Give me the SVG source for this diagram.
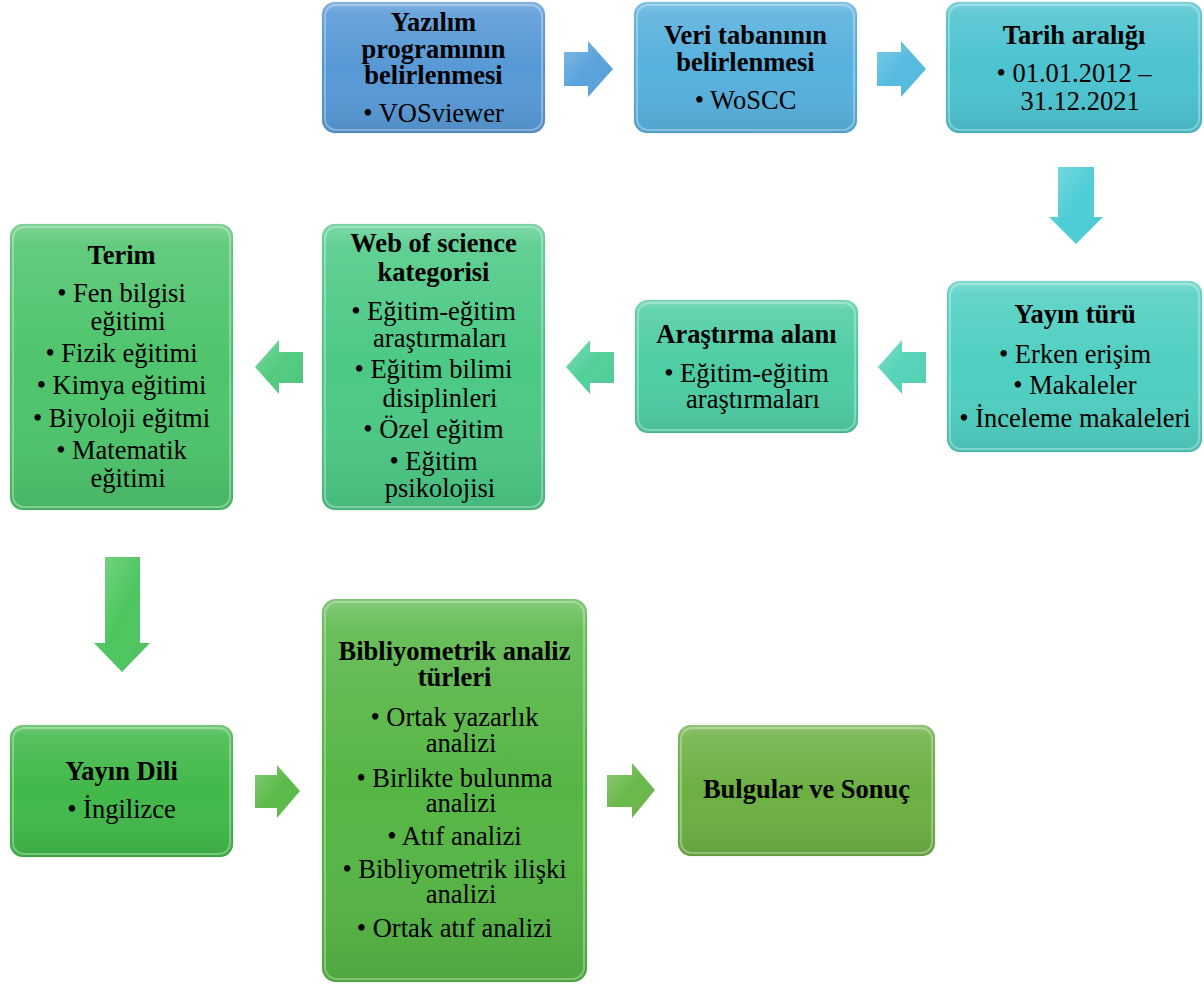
<svg xmlns="http://www.w3.org/2000/svg" width="1204" height="985" viewBox="0 0 1204 985">
<defs>
<linearGradient id="gloss" x1="0" y1="0" x2="0" y2="1">
<stop offset="0" stop-color="#fff" stop-opacity="0.28"/>
<stop offset="0.08" stop-color="#fff" stop-opacity="0.12"/>
<stop offset="0.5" stop-color="#fff" stop-opacity="0"/>
<stop offset="1" stop-color="#000" stop-opacity="0.08"/>
</linearGradient>
<linearGradient id="agloss" x1="0" y1="0" x2="1" y2="1">
<stop offset="0" stop-color="#fff" stop-opacity="0.25"/>
<stop offset="0.5" stop-color="#fff" stop-opacity="0"/>
<stop offset="1" stop-color="#000" stop-opacity="0.06"/>
</linearGradient>
<style>
.t{font-family:"Liberation Serif","Times New Roman",serif;font-size:26.5px;fill:#000;text-anchor:middle}
.b{font-weight:bold}
.gl{fill:url(#gloss)}
.in{fill:none;stroke:#fff;stroke-opacity:0.3;stroke-width:2}
.ed{stroke:#000;stroke-opacity:0.08;stroke-width:1}
.ag{fill:url(#agloss)}
</style>
</defs>
<g id="connectors">
<path fill="#5aa3dc" d="M564,52H588V41L613,69L588,97V86H564Z"/>
<path class="ag" d="M564,52H588V41L613,69L588,97V86H564Z"/>
<path fill="#55bbe0" d="M877,52H901V41L926,69L901,97V86H877Z"/>
<path class="ag" d="M877,52H901V41L926,69L901,97V86H877Z"/>
<path fill="#4ecdd6" d="M1058,167H1094V217H1103L1076,244L1049,217H1058Z"/>
<path class="ag" d="M1058,167H1094V217H1103L1076,244L1049,217H1058Z"/>
<path fill="#55d3b8" d="M926,352H902V340L878,367L902,394V383H926Z"/>
<path class="ag" d="M926,352H902V340L878,367L902,394V383H926Z"/>
<path fill="#52d09a" d="M614,352H590V340L566,367L590,394V383H614Z"/>
<path class="ag" d="M614,352H590V340L566,367L590,394V383H614Z"/>
<path fill="#52cb80" d="M303,352H279V340L255,367L279,394V383H303Z"/>
<path class="ag" d="M303,352H279V340L255,367L279,394V383H303Z"/>
<path fill="#4ec660" d="M105,557H140V643H150L122,672L94,643H105Z"/>
<path class="ag" d="M105,557H140V643H150L122,672L94,643H105Z"/>
<path fill="#5cbb4a" d="M255,775H277V765L300,791L277,818V808H255Z"/>
<path class="ag" d="M255,775H277V765L300,791L277,818V808H255Z"/>
<path fill="#6ab84a" d="M607,775H632V763L655,790L632,818V807H607Z"/>
<path class="ag" d="M607,775H632V763L655,790L632,818V807H607Z"/>
</g>
<g id="n1">
<rect class="ed" x="322" y="2" width="223" height="131" rx="13" fill="#5799d6"/>
<rect class="gl" x="322" y="2" width="223" height="131" rx="13"/>
<rect class="in" x="325" y="5" width="217" height="125" rx="11"/>
<text class="t b" x="433.5" y="31">Yazılım</text>
<text class="t b" x="433.5" y="58">programının</text>
<text class="t b" x="433.5" y="84">belirlenmesi</text>
<text class="t" x="433.5" y="122">• VOSviewer</text>
</g>
<g id="n2">
<rect class="ed" x="634" y="2" width="223" height="131" rx="13" fill="#57b0dd"/>
<rect class="gl" x="634" y="2" width="223" height="131" rx="13"/>
<rect class="in" x="637" y="5" width="217" height="125" rx="11"/>
<text class="t b" x="745.5" y="44">Veri tabanının</text>
<text class="t b" x="745.5" y="71">belirlenmesi</text>
<text class="t" x="745.5" y="109">• WoSCC</text>
</g>
<g id="n3">
<rect class="ed" x="946" y="2" width="256" height="131" rx="13" fill="#4cc3d0"/>
<rect class="gl" x="946" y="2" width="256" height="131" rx="13"/>
<rect class="in" x="949" y="5" width="250" height="125" rx="11"/>
<text class="t b" x="1074" y="44">Tarih aralığı</text>
<text class="t" x="1074" y="82">• 01.01.2012 –</text>
<text class="t" x="1080" y="110">31.12.2021</text>
</g>
<g id="n4">
<rect class="ed" x="947" y="281" width="255" height="171" rx="13" fill="#4fcfc1"/>
<rect class="gl" x="947" y="281" width="255" height="171" rx="13"/>
<rect class="in" x="950" y="284" width="249" height="165" rx="11"/>
<text class="t b" x="1075" y="323">Yayın türü</text>
<text class="t" x="1075" y="363">• Erken erişim</text>
<text class="t" x="1075" y="394">• Makaleler</text>
<text class="t" x="1075" y="427">• İnceleme makaleleri</text>
</g>
<g id="n5">
<rect class="ed" x="635" y="300" width="223" height="133" rx="13" fill="#4ecda4"/>
<rect class="gl" x="635" y="300" width="223" height="133" rx="13"/>
<rect class="in" x="638" y="303" width="217" height="127" rx="11"/>
<text class="t b" x="746.5" y="343">Araştırma alanı</text>
<text class="t" x="746.5" y="382">• Eğitim-eğitim</text>
<text class="t" x="753" y="408">araştırmaları</text>
</g>
<g id="n6">
<rect class="ed" x="322" y="224" width="223" height="286" rx="13" fill="#4cc985"/>
<rect class="gl" x="322" y="224" width="223" height="286" rx="13"/>
<rect class="in" x="325" y="227" width="217" height="280" rx="11"/>
<text class="t b" x="433.5" y="252">Web of science</text>
<text class="t b" x="433.5" y="281">kategorisi</text>
<text class="t" x="433.5" y="320">• Eğitim-eğitim</text>
<text class="t" x="440" y="347">araştırmaları</text>
<text class="t" x="433.5" y="378">• Eğitim bilimi</text>
<text class="t" x="440" y="407">disiplinleri</text>
<text class="t" x="433.5" y="438">• Özel eğitim</text>
<text class="t" x="433.5" y="470">• Eğitim</text>
<text class="t" x="440" y="497">psikolojisi</text>
</g>
<g id="n7">
<rect class="ed" x="10" y="224" width="223" height="286" rx="13" fill="#4ec46c"/>
<rect class="gl" x="10" y="224" width="223" height="286" rx="13"/>
<rect class="in" x="13" y="227" width="217" height="280" rx="11"/>
<text class="t b" x="121.5" y="264">Terim</text>
<text class="t" x="121.5" y="302">• Fen bilgisi</text>
<text class="t" x="128" y="330">eğitimi</text>
<text class="t" x="121.5" y="362">• Fizik eğitimi</text>
<text class="t" x="121.5" y="394">• Kimya eğitimi</text>
<text class="t" x="121.5" y="427">• Biyoloji eğitmi</text>
<text class="t" x="121.5" y="459">• Matematik</text>
<text class="t" x="128" y="487">eğitimi</text>
</g>
<g id="n8">
<rect class="ed" x="10" y="725" width="223" height="132" rx="13" fill="#41b84a"/>
<rect class="gl" x="10" y="725" width="223" height="132" rx="13"/>
<rect class="in" x="13" y="728" width="217" height="126" rx="11"/>
<text class="t b" x="121.5" y="780">Yayın Dili</text>
<text class="t" x="121.5" y="818">• İngilizce</text>
</g>
<g id="n9">
<rect class="ed" x="322" y="599" width="265" height="383" rx="14" fill="#56b645"/>
<rect class="gl" x="322" y="599" width="265" height="383" rx="14"/>
<rect class="in" x="325" y="602" width="259" height="377" rx="12"/>
<text class="t b" x="454.5" y="660">Bibliyometrik analiz</text>
<text class="t b" x="454.5" y="686">türleri</text>
<text class="t" x="454.5" y="726">• Ortak yazarlık</text>
<text class="t" x="461" y="752">analizi</text>
<text class="t" x="454.5" y="787">• Birlikte bulunma</text>
<text class="t" x="461" y="812">analizi</text>
<text class="t" x="454.5" y="845">• Atıf analizi</text>
<text class="t" x="454.5" y="878">• Bibliyometrik ilişki</text>
<text class="t" x="461" y="903">analizi</text>
<text class="t" x="454.5" y="937">• Ortak atıf analizi</text>
</g>
<g id="n10">
<rect class="ed" x="678" y="725" width="257" height="131" rx="13" fill="#6cb043"/>
<rect class="gl" x="678" y="725" width="257" height="131" rx="13"/>
<rect class="in" x="681" y="728" width="251" height="125" rx="11"/>
<text class="t b" x="806.5" y="798">Bulgular ve Sonuç</text>
</g>
</svg>
